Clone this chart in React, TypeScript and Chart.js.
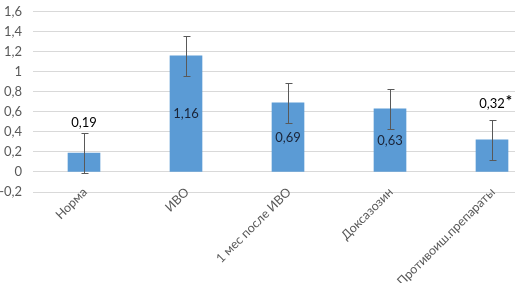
import React, { useEffect, useRef } from "react";
import { Chart, registerables } from "chart.js";

Chart.register(...registerables);

const categories = ["Норма", "ИВО", "1 мес после ИВО", "Доксазозин", "Противоиш.препараты"];
const values = [0.19, 1.16, 0.69, 0.63, 0.32];
const errors = [0.2, 0.2, 0.2, 0.2, 0.2];
const labelSuffix = ["", "", "", "", "*"];
const labelInside = [false, true, true, true, false];
const yMin = -0.2;
const yMax = 1.6;
const yStep = 0.2;

const FONT = "Lato, 'Open Sans', sans-serif";

const fmt = (v: number) => String(Math.round(v * 100) / 100).replace(".", ",");

const overlayPlugin = {
  id: "errAndLabels",
  afterDatasetsDraw(chart: any) {
    const ctx = chart.ctx as CanvasRenderingContext2D;
    const xs = chart.scales.x;
    const ys = chart.scales.y;
    ctx.save();
    // error bars
    ctx.strokeStyle = "#595959";
    ctx.lineWidth = 1;
    values.forEach((v, i) => {
      const x = Math.round(xs.getPixelForValue(i)) + 0.5;
      const yt = Math.round(ys.getPixelForValue(v + errors[i])) + 0.5;
      const yb = Math.round(ys.getPixelForValue(v - errors[i])) + 0.5;
      ctx.beginPath();
      ctx.moveTo(x, yt);
      ctx.lineTo(x, yb);
      ctx.moveTo(x - 3, yt);
      ctx.lineTo(x + 4, yt);
      ctx.moveTo(x - 3, yb);
      ctx.lineTo(x + 4, yb);
      ctx.stroke();
    });
    // value labels
    values.forEach((v, i) => {
      const x = xs.getPixelForValue(i);
      let y: number;
      ctx.textAlign = "center";
      ctx.textBaseline = "middle";
      ctx.font = `13px ${FONT}`;
      if (labelInside[i]) {
        y = (ys.getPixelForValue(v) + ys.getPixelForValue(0)) / 2;
        ctx.fillStyle = "#1a2438";
      } else {
        const off = labelSuffix[i] ? 16 : 10;
        y = ys.getPixelForValue(v + errors[i]) - off;
        ctx.fillStyle = "#000000";
      }
      const txt = fmt(v);
      ctx.fillText(txt, x, y);
      if (labelSuffix[i]) {
        const w = ctx.measureText(txt).width;
        ctx.font = `bold 15px ${FONT}`;
        ctx.textAlign = "left";
        ctx.fillText(labelSuffix[i], x + w / 2 + 1, y - 3);
      }
    });
    // category labels (rotated 45°)
    ctx.fillStyle = "#595959";
    ctx.font = `12.5px ${FONT}`;
    ctx.textAlign = "right";
    ctx.textBaseline = "middle";
    categories.forEach((c, i) => {
      const x = xs.getPixelForValue(i) + 1;
      const y = chart.chartArea.bottom - 2;
      ctx.save();
      ctx.translate(x, y);
      ctx.rotate(-Math.PI / 4);
      ctx.fillText(c, 0, 0);
      ctx.restore();
    });
    ctx.restore();
  },
};

export default function App() {
  const ref = useRef<HTMLCanvasElement | null>(null);
  useEffect(() => {
    document.body.style.margin = "0";
    if (!ref.current) return;
    const chart = new Chart(ref.current, {
      type: "bar",
      data: {
        labels: categories,
        datasets: [
          {
            data: values,
            backgroundColor: "#5b9bd5",
            borderWidth: 0,
            barThickness: 32,
          },
        ],
      },
      options: {
        animation: false,
        responsive: false,
        maintainAspectRatio: false,
        layout: { padding: { top: 3, right: 4, left: 0, bottom: 0 } },
        plugins: { legend: { display: false }, tooltip: { enabled: false } },
        scales: {
          x: {
            grid: { display: false, drawTicks: false },
            border: { display: false },
            ticks: { display: false },
            afterFit(scale: any) {
              scale.height = 91;
            },
          },
          y: {
            min: yMin,
            max: yMax,
            grid: { color: "#d9d9d9", drawTicks: false, lineWidth: 1 },
            border: { display: false },
            ticks: {
              stepSize: yStep,
              padding: 11,
              color: "#595959",
              font: { family: FONT, size: 13 },
              callback: (v: any) => fmt(Number(v)),
            },
            afterFit(scale: any) {
              scale.width = 38;
            },
          },
        },
      },
      plugins: [overlayPlugin],
    });
    return () => chart.destroy();
  }, []);
  return (
    <div style={{ position: "fixed", left: 0, top: 0, width: 515, height: 283, overflow: "hidden", background: "#fff" }}>
      <canvas ref={ref} width={552} height={290} style={{ position: "absolute", left: -5, top: -7, width: 552, height: 290 }} />
    </div>
  );
}
